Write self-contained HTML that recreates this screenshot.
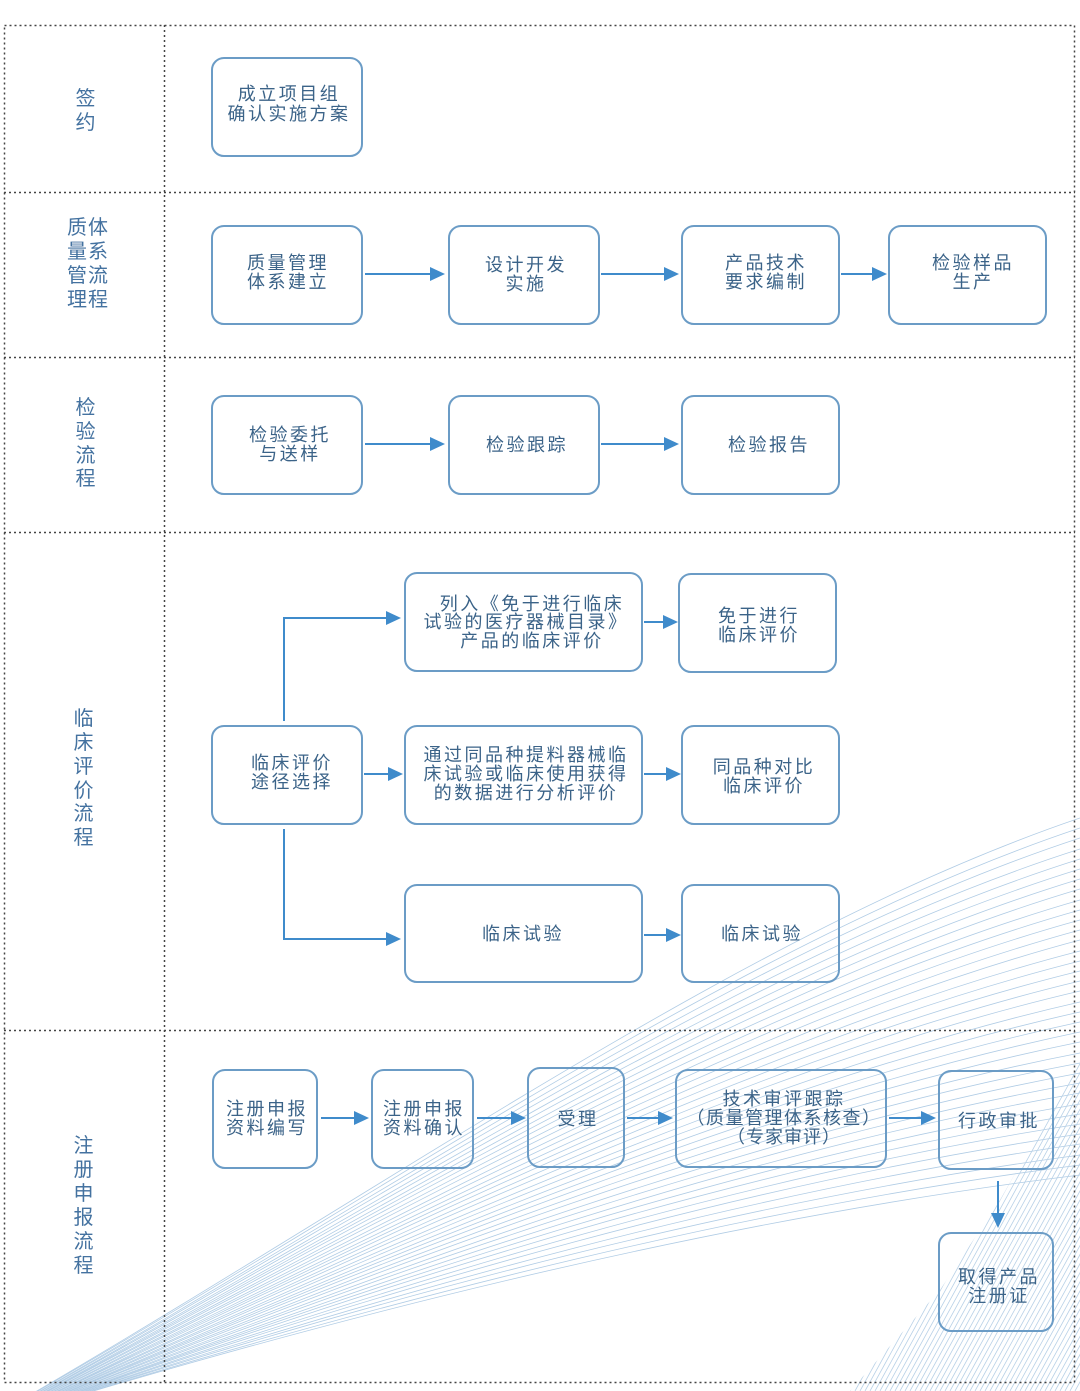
<!DOCTYPE html>
<html>
<head>
<meta charset="utf-8">
<style>
  html,body{margin:0;padding:0;background:#fff;}
  svg{display:block;}
  .bt{font-family:"Liberation Sans","Noto Sans CJK SC",sans-serif;font-size:18px;fill:#3b6388;letter-spacing:2.5px;text-anchor:middle;}
  .lb{font-family:"Liberation Sans","Noto Sans CJK SC",sans-serif;font-size:20px;fill:#4472a0;letter-spacing:1px;text-anchor:middle;}
  .box{fill:none;stroke:#6b9cc6;stroke-width:2;}
  .ar{stroke:#3f8bcb;stroke-width:2;fill:none;}
  .ah{fill:#3f8bcb;}
  .dot{stroke:#444;stroke-width:1.5;stroke-dasharray:2 3;fill:none;}
  .wa{fill:none;stroke:#b0cce5;stroke-width:0.8;}
  .wb{fill:none;stroke:#b8d1e7;stroke-width:0.8;}
</style>
</head>
<body>
<svg width="1080" height="1391" viewBox="0 0 1080 1391" xmlns="http://www.w3.org/2000/svg">
  <rect width="1080" height="1391" fill="#fff"/>
  <defs>
    <clipPath id="cb">
      <polygon points="850,1391 940,1290 1000,1200 1040,1130 1080,1060 1080,1391"/>
    </clipPath>
  </defs>

  <!-- wave family A -->
  <g class="wa">
    <path d="M30 1395 C400 1180 750 930 1080 818"/>
    <path d="M31 1395 C400 1183 750 938 1080 828"/>
    <path d="M33 1395 C400 1187 750 946 1080 838"/>
    <path d="M34 1395 C400 1190 750 954 1080 849"/>
    <path d="M36 1395 C400 1194 750 963 1080 859"/>
    <path d="M37 1395 C400 1197 750 971 1080 869"/>
    <path d="M39 1395 C400 1201 750 979 1080 879"/>
    <path d="M40 1395 C400 1204 750 987 1080 889"/>
    <path d="M41 1395 C400 1207 750 995 1080 900"/>
    <path d="M43 1395 C400 1211 750 1003 1080 910"/>
    <path d="M44 1395 C400 1214 750 1011 1080 920"/>
    <path d="M46 1395 C400 1218 750 1020 1080 930"/>
    <path d="M47 1395 C400 1221 750 1028 1080 940"/>
    <path d="M49 1395 C400 1225 750 1036 1080 951"/>
    <path d="M50 1395 C400 1228 750 1044 1080 961"/>
    <path d="M51 1395 C400 1231 750 1052 1080 971"/>
    <path d="M53 1395 C400 1235 750 1060 1080 981"/>
    <path d="M54 1395 C400 1238 750 1068 1080 991"/>
    <path d="M56 1395 C400 1242 750 1077 1080 1002"/>
    <path d="M57 1395 C400 1245 750 1085 1080 1012"/>
    <path d="M59 1395 C400 1249 750 1093 1080 1022"/>
    <path d="M60 1395 C400 1252 750 1101 1080 1032"/>
    <path d="M61 1395 C400 1255 750 1109 1080 1042"/>
    <path d="M63 1395 C400 1259 750 1117 1080 1053"/>
    <path d="M64 1395 C400 1262 750 1125 1080 1063"/>
    <path d="M66 1395 C400 1266 750 1134 1080 1073"/>
    <path d="M67 1395 C400 1269 750 1142 1080 1083"/>
    <path d="M69 1395 C400 1273 750 1150 1080 1093"/>
    <path d="M70 1395 C400 1276 750 1158 1080 1104"/>
    <path d="M71 1395 C400 1279 750 1166 1080 1114"/>
    <path d="M73 1395 C400 1283 750 1174 1080 1124"/>
    <path d="M74 1395 C400 1286 750 1182 1080 1134"/>
    <path d="M76 1395 C400 1290 750 1191 1080 1144"/>
    <path d="M77 1395 C400 1293 750 1199 1080 1155"/>
    <path d="M79 1395 C400 1297 750 1207 1080 1165"/>
    <path d="M80 1395 C400 1300 750 1215 1080 1175"/>
  </g>

  <!-- wave family B (bottom-right hatching) -->
  <g class="wb" clip-path="url(#cb)">
    <path d="M850 1391 L1180 791 M855 1391 L1185 791 M860 1391 L1190 791 M865 1391 L1195 791 M870 1391 L1200 791 M875 1391 L1205 791 M880 1391 L1210 791 M885 1391 L1215 791 M890 1391 L1220 791 M895 1391 L1225 791 M900 1391 L1230 791 M905 1391 L1235 791 M910 1391 L1240 791 M915 1391 L1245 791 M920 1391 L1250 791 M925 1391 L1255 791 M930 1391 L1260 791 M935 1391 L1265 791 M940 1391 L1270 791 M945 1391 L1275 791 M950 1391 L1280 791 M955 1391 L1285 791 M960 1391 L1290 791 M965 1391 L1295 791 M970 1391 L1300 791 M975 1391 L1305 791 M980 1391 L1310 791 M985 1391 L1315 791 M990 1391 L1320 791 M995 1391 L1325 791 M1000 1391 L1330 791 M1005 1391 L1335 791 M1010 1391 L1340 791 M1015 1391 L1345 791 M1020 1391 L1350 791 M1025 1391 L1355 791 M1030 1391 L1360 791 M1035 1391 L1365 791 M1040 1391 L1370 791 M1045 1391 L1375 791 M1050 1391 L1380 791 M1055 1391 L1385 791 M1060 1391 L1390 791 M1065 1391 L1395 791 M1070 1391 L1400 791 M1075 1391 L1405 791 M1080 1391 L1410 791"/>
  </g>

  <!-- dotted grid -->
  <g class="dot">
    <rect x="4.5" y="25.5" width="1070" height="1357"/>
    <line x1="164.5" y1="25" x2="164.5" y2="1383"/>
    <line x1="4" y1="192.5" x2="1075" y2="192.5"/>
    <line x1="4" y1="357.5" x2="1075" y2="357.5"/>
    <line x1="4" y1="532.5" x2="1075" y2="532.5"/>
    <line x1="4" y1="1030.5" x2="1075" y2="1030.5"/>
  </g>

  <!-- boxes -->
  <g class="box">
    <rect x="212" y="58" width="150" height="98" rx="12"/>
    <rect x="212" y="226" width="150" height="98" rx="12"/>
    <rect x="449" y="226" width="150" height="98" rx="12"/>
    <rect x="682" y="226" width="157" height="98" rx="12"/>
    <rect x="889" y="226" width="157" height="98" rx="12"/>
    <rect x="212" y="396" width="150" height="98" rx="12"/>
    <rect x="449" y="396" width="150" height="98" rx="12"/>
    <rect x="682" y="396" width="157" height="98" rx="12"/>
    <rect x="212" y="726" width="150" height="98" rx="12"/>
    <rect x="405" y="573" width="237" height="98" rx="12"/>
    <rect x="679" y="574" width="157" height="98" rx="12"/>
    <rect x="405" y="726" width="237" height="98" rx="12"/>
    <rect x="682" y="726" width="157" height="98" rx="12"/>
    <rect x="405" y="885" width="237" height="97" rx="12"/>
    <rect x="682" y="885" width="157" height="97" rx="12"/>
    <rect x="213" y="1070" width="104" height="98" rx="12"/>
    <rect x="372" y="1070" width="101" height="98" rx="12"/>
    <rect x="528" y="1068" width="96" height="99" rx="12"/>
    <rect x="676" y="1070" width="210" height="97" rx="12"/>
    <rect x="939" y="1071" width="114" height="98" rx="12"/>
    <rect x="939" y="1233" width="114" height="98" rx="12"/>
  </g>

  <!-- arrows -->
  <g>
    <line class="ar" x1="365" y1="274" x2="432" y2="274"/><polygon class="ah" points="445,274 430,267 430,281"/>
    <line class="ar" x1="601" y1="274" x2="666" y2="274"/><polygon class="ah" points="679,274 664,267 664,281"/>
    <line class="ar" x1="841" y1="274" x2="874" y2="274"/><polygon class="ah" points="887,274 872,267 872,281"/>
    <line class="ar" x1="365" y1="444" x2="432" y2="444"/><polygon class="ah" points="445,444 430,437 430,451"/>
    <line class="ar" x1="601" y1="444" x2="666" y2="444"/><polygon class="ah" points="679,444 664,437 664,451"/>
    <polyline class="ar" points="284,721 284,618 388,618"/><polygon class="ah" points="401,618 386,611 386,625"/>
    <line class="ar" x1="364" y1="774" x2="390" y2="774"/><polygon class="ah" points="403,774 388,767 388,781"/>
    <polyline class="ar" points="284,829 284,939 388,939"/><polygon class="ah" points="401,939 386,932 386,946"/>
    <line class="ar" x1="644" y1="622" x2="665" y2="622"/><polygon class="ah" points="678,622 663,615 663,629"/>
    <line class="ar" x1="644" y1="774" x2="668" y2="774"/><polygon class="ah" points="681,774 666,767 666,781"/>
    <line class="ar" x1="644" y1="935" x2="668" y2="935"/><polygon class="ah" points="681,935 666,928 666,942"/>
    <line class="ar" x1="321" y1="1118" x2="356" y2="1118"/><polygon class="ah" points="369,1118 354,1111 354,1125"/>
    <line class="ar" x1="477" y1="1118" x2="513" y2="1118"/><polygon class="ah" points="526,1118 511,1111 511,1125"/>
    <line class="ar" x1="627" y1="1118" x2="660" y2="1118"/><polygon class="ah" points="673,1118 658,1111 658,1125"/>
    <line class="ar" x1="889" y1="1118" x2="923" y2="1118"/><polygon class="ah" points="936,1118 921,1111 921,1125"/>
    <line class="ar" x1="998" y1="1181" x2="998" y2="1215"/><polygon class="ah" points="998,1228 991,1213 1005,1213"/>
  </g>

  <!-- lane labels -->
  <g class="lb">
    <text x="86" y="105">签</text>
    <text x="86" y="129">约</text>

    <text x="88" y="234">质体</text>
    <text x="88" y="258">量系</text>
    <text x="88" y="282">管流</text>
    <text x="88" y="306">理程</text>

    <text x="86" y="414">检</text>
    <text x="86" y="438">验</text>
    <text x="86" y="462">流</text>
    <text x="86" y="485">程</text>

    <text x="84" y="725">临</text>
    <text x="84" y="749">床</text>
    <text x="84" y="773">评</text>
    <text x="84" y="797">价</text>
    <text x="84" y="820">流</text>
    <text x="84" y="844">程</text>

    <text x="84" y="1152">注</text>
    <text x="84" y="1176">册</text>
    <text x="84" y="1200">申</text>
    <text x="84" y="1224">报</text>
    <text x="84" y="1248">流</text>
    <text x="84" y="1272">程</text>
  </g>

  <!-- box texts -->
  <g class="bt">
    <text x="289" y="100">成立项目组</text>
    <text x="289" y="120">确认实施方案</text>

    <text x="288" y="269">质量管理</text>
    <text x="288" y="288">体系建立</text>
    <text x="526" y="271">设计开发</text>
    <text x="526" y="290">实施</text>
    <text x="766" y="269">产品技术</text>
    <text x="766" y="288">要求编制</text>
    <text x="973" y="269">检验样品</text>
    <text x="973" y="288">生产</text>

    <text x="290" y="441">检验委托</text>
    <text x="290" y="460">与送样</text>
    <text x="527" y="451">检验跟踪</text>
    <text x="769" y="451">检验报告</text>

    <text x="292" y="769">临床评价</text>
    <text x="292" y="788">途径选择</text>

    <text x="532" y="610">列入《免于进行临床</text>
    <text x="526" y="628">试验的医疗器械目录》</text>
    <text x="532" y="647">产品的临床评价</text>
    <text x="759" y="622">免于进行</text>
    <text x="759" y="641">临床评价</text>

    <text x="526" y="761">通过同品种提料器械临</text>
    <text x="526" y="780">床试验或临床使用获得</text>
    <text x="526" y="799">的数据进行分析评价</text>
    <text x="764" y="773">同品种对比</text>
    <text x="764" y="792">临床评价</text>

    <text x="523" y="940">临床试验</text>
    <text x="762" y="940">临床试验</text>

    <text x="267" y="1115">注册申报</text>
    <text x="267" y="1134">资料编写</text>
    <text x="424" y="1115">注册申报</text>
    <text x="424" y="1134">资料确认</text>
    <text x="578" y="1125">受理</text>
    <text x="784" y="1105">技术审评跟踪</text>
    <text x="784" y="1124" style="letter-spacing:1.5px">（质量管理体系核查）</text>
    <text x="784" y="1143" style="letter-spacing:1px">（专家审评）</text>
    <text x="999" y="1127">行政审批</text>
    <text x="999" y="1283">取得产品</text>
    <text x="999" y="1302">注册证</text>
  </g>
</svg>
</body>
</html>
